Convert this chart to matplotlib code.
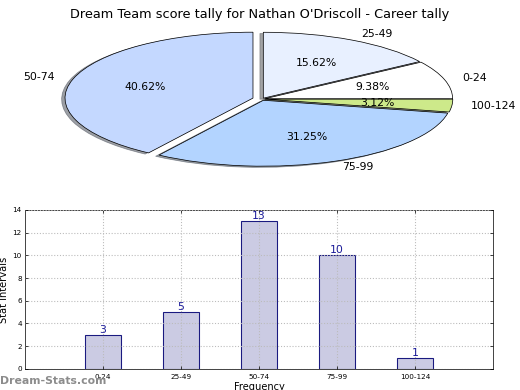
import matplotlib
matplotlib.use('Agg')
import matplotlib.pyplot as plt

# score intervals and how often each happened
labels = ['0-24', '25-49', '50-74', '75-99', '100-124']
counts = [3, 5, 13, 10, 1]
pie_colors = ['#ffffff', '#e8f0ff', '#c4d8ff', '#b3d4ff', '#cde98a']
explode = [0.015, 0.015, 0.05, 0.02, 0.015]

title = "Dream Team score tally for Nathan O'Driscoll - Career tally"

fig = plt.figure(figsize=(8, 6), dpi=65)

# pie on top, not equal aspect so it comes out as an ellipse
ax1 = fig.add_axes([0.1423, 0.577, 0.723, 0.338])
wedges, texts, autotexts = ax1.pie(counts, labels=labels, colors=pie_colors,
                                   explode=explode, autopct='%1.2f%%',
                                   startangle=0, shadow=True,
                                   wedgeprops={'edgecolor': 'black', 'linewidth': 0.8},
                                   textprops={'fontsize': 12})
ax1.set_aspect('auto')
ax1.set_xlim(-1, 1)
ax1.set_ylim(-1, 1)
ax1.axis('off')
fig.text(0.5, 0.962, title, ha='center', va='center', fontsize=14.3)

# bar chart below
ax2 = fig.add_axes([0.048, 0.054, 0.9, 0.408])
pos = range(1, len(counts) + 1)
bars = ax2.bar(pos, counts, width=0.46, color='#cbcbe3', edgecolor='#1a1a80',
               linewidth=1.2, zorder=1)
for x, c in zip(pos, counts):
    ax2.text(x, c, str(c), ha='center', va='bottom', color='#1a1a99', fontsize=12)
ax2.set_xlim(0, 6)
ax2.set_ylim(0, 14)
ax2.set_yticks(range(0, 15, 2))
ax2.set_xticks(list(pos))
ax2.set_xticklabels(labels)
ax2.tick_params(labelsize=8, direction='in', top=True, right=True)
ax2.tick_params(axis='x', pad=6)
ax2.grid(True, linestyle=':', color='#bbbbbb', linewidth=1.2, zorder=3)
ax2.set_axisbelow(False)
ax2.set_ylabel('Stat Intervals', fontsize=11)
ax2.set_xlabel('Frequency', fontsize=11, labelpad=2)

fig.text(0.0, 0.022, 'Dream-Stats.com', color='#8c8c8c', fontsize=12,
         fontweight='semibold', ha='left', va='center')

fig.savefig('out.png', dpi=65)
